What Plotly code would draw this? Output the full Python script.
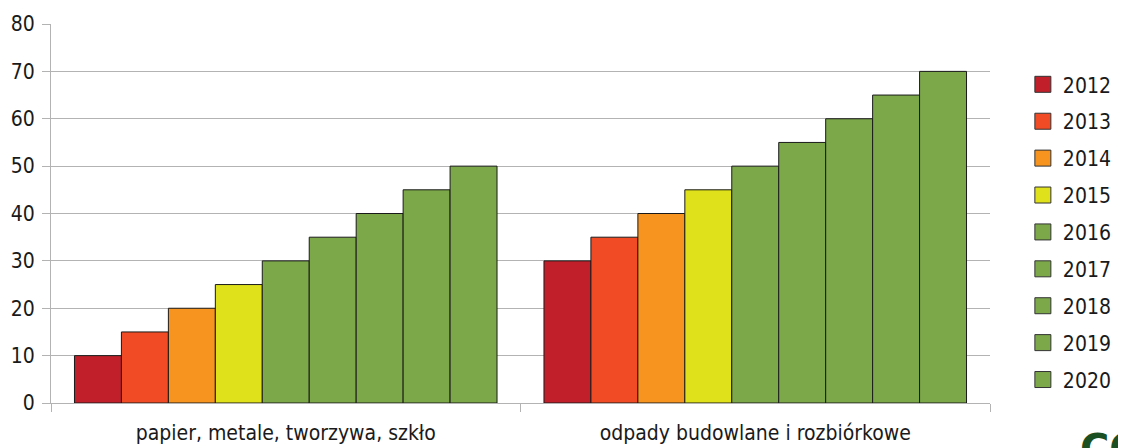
import plotly.graph_objects as go

categories = ["papier, metale, tworzywa, szkło", "odpady budowlane i rozbiórkowe"]
years = ["2012", "2013", "2014", "2015", "2016", "2017", "2018", "2019", "2020"]
values_papier = [10, 15, 20, 25, 30, 35, 40, 45, 50]
values_budowlane = [30, 35, 40, 45, 50, 55, 60, 65, 70]
colors = ["#C1202A", "#F04B24", "#F7941F", "#DFE11B", "#7DA84A",
          "#7DA84A", "#7DA84A", "#7DA84A", "#7DA84A"]

FONT = "DejaVu Sans Condensed, DejaVu Sans"

fig = go.Figure()
for i, y in enumerate(years):
    fig.add_trace(go.Bar(
        name=y,
        x=categories,
        y=[values_papier[i], values_budowlane[i]],
        marker=dict(color=colors[i], line=dict(color="#1a1a1a", width=1)),
        showlegend=False,
    ))
# legend proxies with larger square symbols
for i, y in enumerate(years):
    fig.add_trace(go.Scatter(
        name=y, x=[None], y=[None], mode="markers",
        marker=dict(symbol="square", size=20, color=colors[i],
                    line=dict(color="#333333", width=1)),
        legendgroup=y, showlegend=True,
    ))

# page body has an 8px default margin; compensate
fig.update_layout(
    width=1118, height=440,
    barmode="group", bargap=0.1, bargroupgap=0,
    margin=dict(l=43, r=136, t=16, b=45, autoexpand=False),
    paper_bgcolor="white", plot_bgcolor="white",
    font=dict(family=FONT, size=21, color="#1a1a1a"),
    legend=dict(x=1.035, y=0.894, xanchor="left", yanchor="top",
                font=dict(size=21), tracegroupgap=6.6, itemsizing="trace",
                itemwidth=30),
    xaxis=dict(showline=True, linecolor="#b3b3b3", linewidth=1,
               ticks="outside", tickson="boundaries", ticklen=8,
               tickcolor="#b3b3b3", showgrid=False, automargin=False,
               ticklabelstandoff=11),
    yaxis=dict(range=[0, 80], dtick=10, showline=True, linecolor="#b3b3b3",
               ticks="outside", ticklen=8, tickcolor="#b3b3b3",
               gridcolor="#b3b3b3", gridwidth=1, zeroline=False,
               automargin=False, ticklabelstandoff=3),
)

fig.add_annotation(text="<b>CO</b>", xref="paper", yref="paper",
                   x=1.095, y=-0.057, xanchor="left", yanchor="top",
                   showarrow=False, borderpad=0,
                   font=dict(size=40, color="#1B5022", family="DejaVu Sans"))

fig.write_html("out.html")
